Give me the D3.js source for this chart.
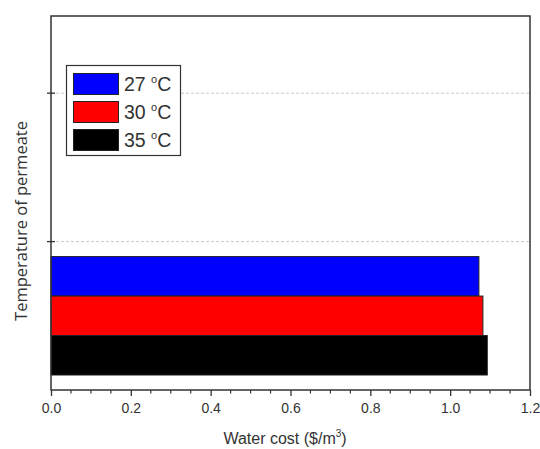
<!DOCTYPE html>
<html><head><meta charset="utf-8">
<script src="https://cdn.jsdelivr.net/npm/d3@7"></script>
<style>body{margin:0;background:#fff}svg{display:block}text{font-family:"Liberation Sans",Arial,sans-serif;fill:#222}</style>
</head><body><svg id="c" width="540" height="449"></svg>
<script>
const series = ["27 °C", "30 °C", "35 °C"];
const seriesDeg = ["27", "30", "35"];
const values = [1.072, 1.082, 1.093];
const colors = ["#0000ff", "#ff0000", "#000000"];
const xTicks = [0, 0.2, 0.4, 0.6, 0.8, 1.0, 1.2];
const yTicks = [0, 1, 2];
const barCenter = 0.5;

const svg = d3.select("#c");
const L = 51, R = 530, T = 16, B = 390;
const x = d3.scaleLinear().domain([0, 1.2]).range([L, R]);
const y = d3.scaleLinear().domain([0, 2.52]).range([B, T]);
const barH = 0.266;

// gridlines
svg.selectAll(".grid").data(yTicks.filter(d => d > 0)).join("line")
  .attr("x1", L).attr("x2", R).attr("y1", d => y(d)).attr("y2", d => y(d))
  .attr("stroke", "#bbb").attr("stroke-width", 0.8).attr("stroke-dasharray", "3,2");

// bars
const order = [0, 1, 2];
svg.selectAll(".bar").data(order).join("rect")
  .attr("x", x(0))
  .attr("y", i => y(barCenter + barH * 1.5 - barH * i))
  .attr("width", i => x(values[i]) - x(0))
  .attr("height", y(0) - y(barH))
  .attr("fill", i => colors[i]).attr("stroke", "#222").attr("stroke-width", 1);

// frame
svg.append("rect").attr("x", L).attr("y", T).attr("width", R - L).attr("height", B - T)
  .attr("fill", "none").attr("stroke", "#333").attr("stroke-width", 1.5);

// x axis
const xAxis = d3.axisBottom(x).tickValues(xTicks).tickFormat(d3.format(".1f")).tickSize(6).tickPadding(7);
const gx = svg.append("g").attr("transform", `translate(0,${B})`).call(xAxis);
gx.select(".domain").remove();
gx.selectAll("line").attr("stroke", "#333").attr("stroke-width", 1.3);
gx.selectAll("text").attr("font-size", 14).style("fill", "#333");
const minor = d3.range(0, 1.2001, 0.05).filter((d, i) => i % 4 !== 0);
svg.append("g").selectAll("line").data(minor).join("line")
  .attr("x1", d => x(d)).attr("x2", d => x(d)).attr("y1", B).attr("y2", B + 3.5)
  .attr("stroke", "#333").attr("stroke-width", 1.2);

// y ticks (crossing)
svg.append("g").selectAll("line").data(yTicks.filter(d => d > 0)).join("line")
  .attr("x1", L - 4).attr("x2", L + 4).attr("y1", d => y(d)).attr("y2", d => y(d))
  .attr("stroke", "#333").attr("stroke-width", 1.3);

// axis titles
const xt = svg.append("text").attr("x", 285).attr("y", 444).attr("text-anchor", "middle").attr("font-size", 16).style("fill", "#333");
xt.append("tspan").text("Water cost ($/m");
xt.append("tspan").attr("dy", -7).attr("font-size", 10).text("3");
xt.append("tspan").attr("dy", 7).text(")");

svg.append("text").attr("transform", "translate(27,221) rotate(-90)").attr("text-anchor", "middle")
  .attr("font-size", 16.5).style("font-family", "'Open Sans', sans-serif").style("fill", "#333").text("Temperature of permeate");

// legend
const lg = svg.append("g");
lg.append("rect").attr("x", 66.5).attr("y", 65.5).attr("width", 114).attr("height", 90)
  .attr("fill", "#fff").attr("stroke", "#333").attr("stroke-width", 1.2);
series.forEach((s, i) => {
  const yy = 73.5 + i * 28;
  lg.append("rect").attr("x", 73.5).attr("y", yy).attr("width", 45).attr("height", 21)
    .attr("fill", colors[i]).attr("stroke", "#222").attr("stroke-width", 1);
  const t = lg.append("text").attr("x", 124).attr("y", yy + 17.5).attr("font-size", 19.5).style("fill", "#333");
  t.append("tspan").text(seriesDeg[i] + " ");
  t.append("tspan").attr("dy", -8).attr("font-size", 11).text("o");
  t.append("tspan").attr("dy", 8).text("C");
});
</script></body></html>
